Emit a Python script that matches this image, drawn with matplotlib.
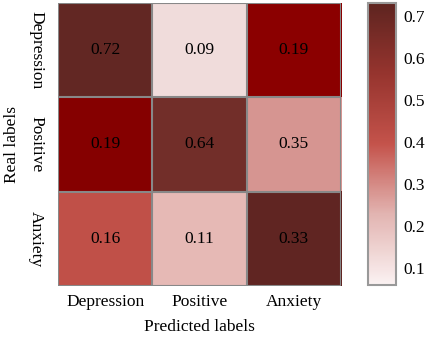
import numpy as np
import matplotlib
matplotlib.use("Agg")
import matplotlib.pyplot as plt
from matplotlib.colors import LinearSegmentedColormap, Normalize, to_rgb
from matplotlib.cm import ScalarMappable

plt.rcParams['font.family'] = ['Liberation Serif', 'DejaVu Serif']

labels = ["Depression", "Positive", "Anxiety"]
values = [[0.72, 0.09, 0.19],
          [0.19, 0.64, 0.35],
          [0.16, 0.11, 0.33]]
cell_colors = [["#622723", "#F0DCDB", "#8B0000"],
               ["#850000", "#722E29", "#D69591"],
               ["#C05048", "#E6B9B5", "#602522"]]
cbar_min, cbar_max = 0.06, 0.73
cbar_ticks = [0.1, 0.2, 0.3, 0.4, 0.5, 0.6, 0.7]

cmap = LinearSegmentedColormap.from_list(
    "reds", ["#FBF2F2", "#E2B4B1", "#C4534B", "#96342E", "#5E2420"])

fig = plt.figure(figsize=(4.29, 3.38), dpi=100)
ax = fig.add_axes([0.135, 0.154, 0.660, 0.837])
rgb = np.array([[to_rgb(c) for c in row] for row in cell_colors])
ax.imshow(rgb, aspect='auto', interpolation='nearest')
n = len(labels)
for i in range(n):
    for j in range(n):
        ax.text(j, i, f"{values[i][j]:.2f}", ha='center', va='center',
                fontsize=12.5, color='black')
for k in range(n + 1):
    ax.axhline(k - 0.5, color='#888888', lw=1.5)
    ax.axvline(k - 0.5, color='#888888', lw=1.5)
ax.set_xticks(range(n))
ax.set_xticklabels(labels, fontsize=12.5)
ax.set_yticks(range(n))
ax.set_yticklabels(labels, fontsize=12.5, rotation=270, va='center')
ax.tick_params(axis='x', length=0, pad=6)
ax.tick_params(axis='y', length=0, pad=10)
for s in ax.spines.values():
    s.set_visible(False)
ax.set_xlabel("Predicted labels", fontsize=12.5, labelpad=6)
ax.set_ylabel("Real labels", fontsize=12.5, labelpad=6)

cax = fig.add_axes([0.858, 0.157, 0.065, 0.834])
sm = ScalarMappable(norm=Normalize(cbar_min, cbar_max), cmap=cmap)
cb = fig.colorbar(sm, cax=cax, ticks=cbar_ticks)
cb.outline.set_edgecolor('#999999')
cb.outline.set_linewidth(1.5)
cax.tick_params(length=0, labelsize=12.5, pad=5)
cax.set_yticklabels([f"{t:.1f}" for t in cbar_ticks])

fig.savefig("out.png", dpi=100)
